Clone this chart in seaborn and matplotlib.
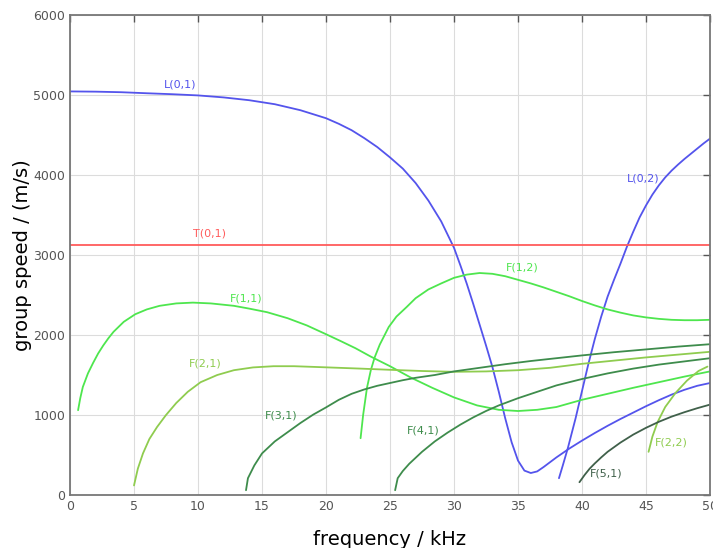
import numpy as np
import pandas as pd
import seaborn as sns
from matplotlib import pyplot as plt

# group speed dispersion curves
l01_f = [0, 2, 4, 6, 8, 10, 12, 14, 16, 18, 20, 21, 22, 23, 24, 25, 26, 27, 28, 29, 30,
         30.5, 31, 31.5, 32, 32.5, 33, 33.5, 34, 34.5, 35, 35.5, 36, 36.5, 37, 38, 39, 40,
         41, 42, 43, 44, 45, 46, 47, 48, 49, 50]
l01_v = [5045, 5042, 5035, 5022, 5010, 4995, 4970, 4935, 4885, 4810, 4710, 4640, 4560, 4460,
         4350, 4220, 4080, 3900, 3680, 3420, 3090, 2870, 2640, 2390, 2130, 1870, 1600, 1290,
         960, 660, 430, 305, 275, 295, 350, 470, 580, 680, 775, 865, 950, 1030, 1110, 1185,
         1255, 1315, 1365, 1400]

l02_f = [38.2, 38.5, 38.9, 39.5, 40, 40.5, 41, 41.5, 42, 42.5, 43, 43.5, 44, 44.5, 45,
         45.5, 46, 46.5, 47, 47.5, 48, 48.5, 49, 49.5, 50]
l02_v = [210, 370, 590, 960, 1300, 1640, 1950, 2230, 2480, 2690, 2890, 3100, 3290, 3470, 3620,
         3755, 3870, 3970, 4055, 4130, 4200, 4265, 4330, 4395, 4455]

t01_f = [0, 50]
t01_v = [3130, 3130]

f11_f = [0.63, 0.8, 1.0, 1.4, 1.8, 2.2, 2.6, 3.0, 3.4, 4.2, 5.1, 6, 7, 8.3, 9.6, 11, 12.8,
         14, 15.4, 17, 18.5, 20, 21.2, 22.3, 23.5, 25, 26.6, 28.3, 30, 31.8, 33.5, 35, 36.5,
         38, 40, 42, 44, 46, 48, 50]
f11_v = [1060, 1210, 1350, 1520, 1650, 1770, 1870, 1960, 2040, 2165, 2260, 2320, 2365, 2395,
         2405, 2395, 2365, 2330, 2285, 2210, 2120, 2010, 1920, 1835, 1730, 1610, 1470, 1340,
         1220, 1120, 1065, 1050, 1065, 1100, 1190, 1265, 1340, 1410, 1480, 1545]

f12_f = [22.7, 22.9, 23.2, 23.5, 23.8, 24.2, 24.9, 25.5, 26.3, 27, 28, 29, 30, 31, 32, 33,
         34, 35, 36, 37, 38, 39, 40, 41, 42, 43, 44, 45, 46, 47, 48, 49, 50]
f12_v = [710, 1000, 1340, 1560, 1720, 1880, 2100, 2230, 2350, 2460, 2570, 2645, 2715, 2755,
         2775, 2765, 2735, 2690, 2645, 2595, 2540, 2485, 2425, 2370, 2320, 2280, 2245, 2220,
         2202, 2190, 2185, 2185, 2190]

f21_f = [5.0, 5.3, 5.7, 6.2, 6.8, 7.5, 8.3, 9.2, 10.2, 11.5, 12.8, 14.3, 15.9, 17.5, 19.3,
         21, 22.7, 25, 27.5, 30, 32.5, 35, 37.5, 40, 42.5, 45, 47.5, 50]
f21_v = [120, 330, 520, 700, 850, 1000, 1150, 1290, 1410, 1500, 1560, 1595, 1610, 1610, 1600,
         1590, 1580, 1565, 1550, 1540, 1545, 1560, 1590, 1640, 1680, 1720, 1755, 1790]

f22_f = [45.2, 45.5, 45.9, 46.5, 47.3, 48.2, 49.1, 49.8]
f22_v = [540, 730, 910, 1100, 1275, 1430, 1550, 1605]

f31_f = [13.75, 13.9, 14.4, 15, 16, 17, 18, 19, 20, 21, 22, 23, 24, 25, 26, 27, 28.5, 30,
         32, 34, 36, 38, 40, 42.5, 45, 47.5, 50]
f31_v = [60, 210, 370, 520, 670, 785, 900, 1005, 1095, 1190, 1265, 1320, 1365, 1400, 1435,
         1465, 1500, 1545, 1590, 1635, 1675, 1710, 1745, 1785, 1820, 1855, 1885]

f41_f = [25.4, 25.6, 26, 26.5, 27.5, 28.5, 29.5, 30.5, 31.5, 32.5, 33.5, 35, 36.5, 38, 40,
         42, 44, 46, 48, 50]
f41_v = [60, 210, 300, 390, 540, 670, 780, 880, 970, 1050, 1120, 1210, 1290, 1370, 1450,
         1520, 1580, 1630, 1670, 1710]

f51_f = [39.8, 40.2, 40.6, 41, 41.5, 42, 43, 44, 45, 46, 47, 48, 49, 50]
f51_v = [160, 250, 330, 395, 470, 540, 655, 755, 840, 915, 980, 1035, 1085, 1130]

names = ['L(0,1)', 'L(0,2)', 'T(0,1)', 'F(1,1)', 'F(1,2)', 'F(2,1)', 'F(2,2)', 'F(3,1)', 'F(4,1)', 'F(5,1)']
freqs = [l01_f, l02_f, t01_f, f11_f, f12_f, f21_f, f22_f, f31_f, f41_f, f51_f]
speeds = [l01_v, l02_v, t01_v, f11_v, f12_v, f21_v, f22_v, f31_v, f41_v, f51_v]

blue = '#5454ec'
red = '#ff5c5c'
green = '#4ee64e'
ygreen = '#8fcc4f'
dgreen = '#3e8c4c'
ggreen = '#40604a'
colors = [blue, blue, red, green, green, ygreen, ygreen, dgreen, dgreen, ggreen]

# label anchor (kHz, m/s)
label_pos = [(8.6, 5130), (44.8, 3960), (10.9, 3275), (13.8, 2460), (35.3, 2850),
             (10.6, 1640), (47.0, 660), (16.5, 1000), (27.6, 810), (41.9, 270)]

sns.set_style('white')

fig = plt.figure(figsize=(7.13, 5.48), dpi=100)
ax = fig.add_axes([0.0982, 0.0967, 0.8976, 0.8759])

for i in range(len(names)):
    sns.lineplot(x=freqs[i], y=speeds[i], ax=ax, color=colors[i], sort=False,
                 estimator=None, linewidth=1.3)
    ax.text(label_pos[i][0], label_pos[i][1], names[i], color=colors[i],
            fontsize=8, ha='center', va='center')

ax.set_xlim(0, 50)
ax.set_ylim(0, 6000)
ax.set_xticks(np.arange(0, 51, 5))
ax.set_yticks(np.arange(0, 6001, 1000))
ax.grid(True, color='#dcdcdc', linewidth=0.8)
ax.set_axisbelow(True)
for s in ax.spines.values():
    s.set_color('#777777')
    s.set_linewidth(1.3)
ax.tick_params(direction='in', top=True, right=True, length=5, width=1,
               colors='#555555', labelsize=9, labelcolor='#555555')
ax.set_xlabel('frequency / kHz', fontsize=14, color='black', labelpad=12)
ax.set_ylabel('group speed / (m/s)', fontsize=14, color='black', labelpad=1)

plt.savefig('out.png', dpi=100)
